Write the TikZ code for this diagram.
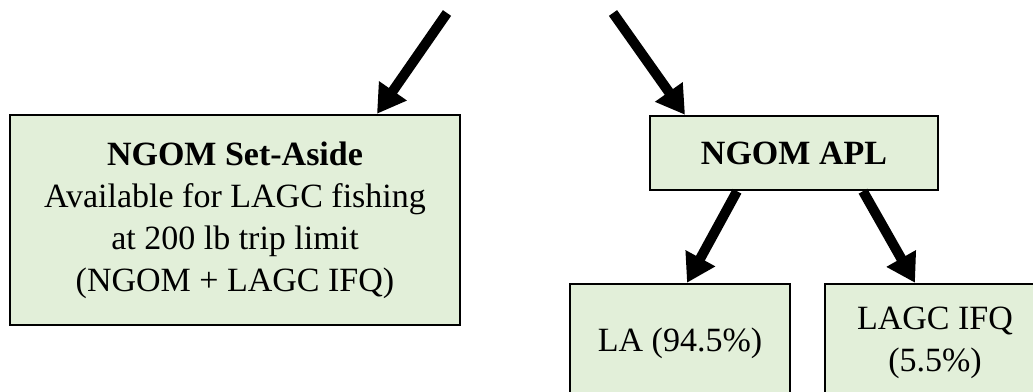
\documentclass[tikz,border=0pt]{standalone}
\usepackage{fontspec}
\setmainfont{Liberation Serif}
\usetikzlibrary{arrows.meta}
\definecolor{boxgreen}{RGB}{226,239,217}
\begin{document}
\begin{tikzpicture}[x=0.5pt, y=-0.5pt, box/.style={draw, line width=1.2pt, fill=boxgreen, align=center, font=\fontsize{17pt}{21pt}\selectfont, inner sep=0pt}, arr/.style={line width=5pt, -{Triangle[length=14pt, width=16pt]}}]
	\clip (0,0) rectangle (1033,391);
	\node[box, minimum width=225pt, minimum height=105pt] (S) at (235,220) {\textbf{NGOM Set-Aside}\\Available for LAGC fishing\\at 200 lb trip limit\\(NGOM + LAGC IFQ)};
	\node[box, minimum width=144pt, minimum height=37pt] (A) at (794,153) {\textbf{NGOM APL}};
	\node[box, minimum width=110pt, minimum height=59pt] (L) at (680,343) {LA (94.5\%)};
	\node[box, minimum width=110pt, minimum height=59pt] (I) at (935,343) {LAGC IFQ\\(5.5\%)};
	\coordinate (C1) at (447,13);
	\coordinate (C2) at (613,13);
	\draw[arr] (C1) -- ([xshift=71pt]S.north);
	\draw[arr] (C2) -- ([xshift=-54.5pt]A.north);
	\draw[arr] ([xshift=-28.5pt]A.south) -- ([xshift=3.5pt]L.north);
	\draw[arr] ([xshift=34.5pt]A.south) -- ([xshift=-10pt]I.north);
\end{tikzpicture}
\end{document}
